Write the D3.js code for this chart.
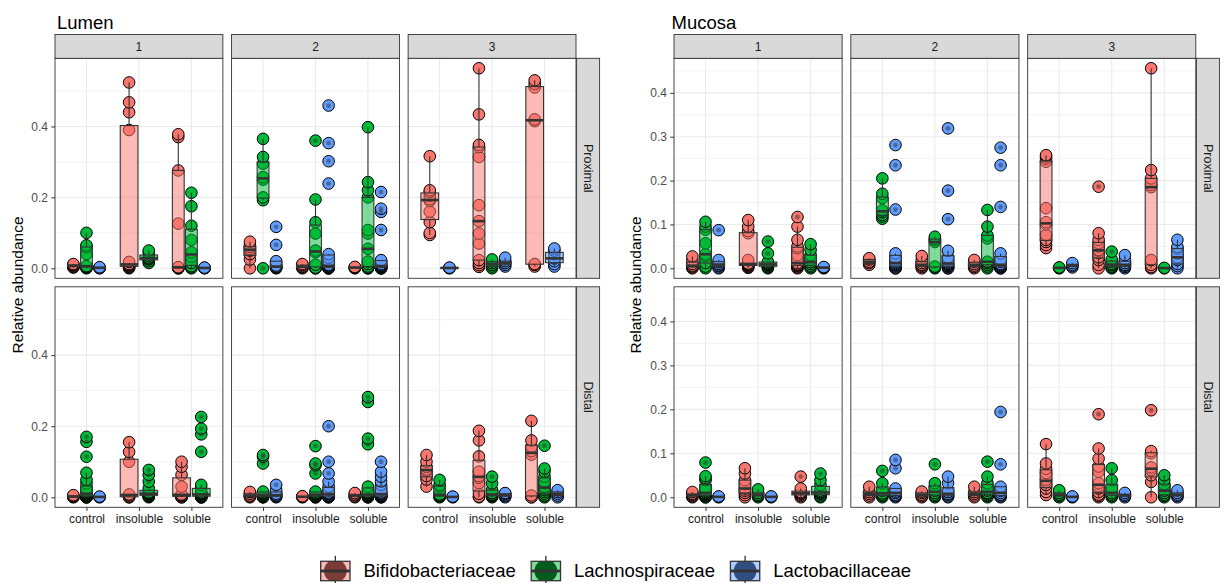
<!DOCTYPE html>
<meta charset="utf-8">
<style>
body { margin: 0; background: #fff; }
text { font-family: "Liberation Sans", Arial, sans-serif; }
</style>
<svg width="1228" height="583"></svg>
<script src="https://d3js.org/d3.v7.min.js"></script>
<script>
'use strict';

var weeks = ["1", "2", "3"];
var sections = ["Proximal", "Distal"];
var diets = ["control", "insoluble", "soluble"];
var families = ["Bifidobacteriaceae", "Lachnospiraceae", "Lactobacillaceae"];
var colors = ["#F8766D", "#00BA38", "#619CFF"];
var keyColors = ["#7C3B37", "#005D1C", "#314E80"];

var lumenTicks = [0, 0.2, 0.4];
var lumenMinor = [0.1, 0.3, 0.5];
var mucosaTicks = [0, 0.1, 0.2, 0.3, 0.4];
var mucosaMinor = [0.05, 0.15, 0.25, 0.35, 0.45];

// one entry per diet, inside it one list per family (null = not present)
var lumen_prox_1 = [
  [[0.002, 0.004, 0.006, 0.008, 0.01, 0.012],
   [0, 0.002, 0.004, 0.005, 0.006, 0.04, 0.06, 0.065, 0.1],
   [0, 0.001, 0.002, 0.003]],
  [[0, 0.002, 0.004, 0.006, 0.008, 0.01, 0.012, 0.018, 0.39, 0.44, 0.468, 0.524],
   [0.015, 0.02, 0.025, 0.027, 0.03, 0.035, 0.045, 0.05],
   null],
  [[0, 0, 0.001, 0.002, 0.003, 0.126, 0.276, 0.37, 0.378],
   [0, 0.003, 0.006, 0.015, 0.033, 0.045, 0.08, 0.12, 0.175, 0.213],
   [0, 0.001, 0.001, 0.002]]
];
var lumen_prox_2 = [
  [[0, 0.025, 0.04, 0.05, 0.055, 0.06, 0.065, 0.075],
   [0, 0.192, 0.2, 0.25, 0.257, 0.295, 0.314, 0.365],
   [0, 0.001, 0.003, 0.004, 0.005, 0.008, 0.02, 0.066, 0.117]],
  [[0, 0.002, 0.004, 0.006, 0.01, 0.012],
   [0, 0, 0.002, 0.01, 0.045, 0.05, 0.098, 0.13, 0.194, 0.36],
   [0, 0, 0, 0.001, 0.002, 0.003, 0.004, 0.005, 0.006, 0.008, 0.01, 0.02, 0.03, 0.04, 0.239, 0.302, 0.353, 0.459]],
  [[0, 0.001, 0.002, 0.003, 0.004],
   [0, 0, 0.002, 0.005, 0.012, 0.019, 0.055, 0.098, 0.108, 0.2, 0.22, 0.243, 0.398],
   [0, 0, 0, 0.001, 0.002, 0.003, 0.004, 0.005, 0.006, 0.007, 0.009, 0.012, 0.018, 0.023, 0.108, 0.159, 0.168, 0.215]]
];
var lumen_prox_3 = [
  [[0.094, 0.1, 0.13, 0.16, 0.19, 0.195, 0.205, 0.215, 0.22, 0.316],
   null,
   [0, 0.001, 0.002]],
  [[0.004, 0.009, 0.015, 0.023, 0.07, 0.098, 0.133, 0.178, 0.314, 0.342, 0.348, 0.434, 0.564],
   [0, 0.005, 0.01, 0.015, 0.02, 0.025],
   [0.005, 0.01, 0.015, 0.02, 0.03]],
  [[0.005, 0.01, 0.012, 0.415, 0.42, 0.51, 0.52, 0.53],
   null,
   [0.005, 0.012, 0.02, 0.028, 0.04, 0.05, 0.056]]
];
var lumen_dist_1 = [
  [[0, 0.001, 0.002, 0.004, 0.006],
   [0, 0, 0, 0.001, 0.002, 0.003, 0.004, 0.005, 0.006, 0.007, 0.008, 0.01, 0.012, 0.014, 0.016, 0.02, 0.025, 0.039, 0.049, 0.069, 0.114, 0.156, 0.17],
   [0, 0.001, 0.002]],
  [[0, 0, 0.002, 0.005, 0.008, 0.1, 0.128, 0.155],
   [0, 0.002, 0.003, 0.005, 0.006, 0.008, 0.009, 0.01, 0.011, 0.012, 0.014, 0.025, 0.044, 0.063, 0.077],
   null],
  [[0, 0, 0.002, 0.004, 0.006, 0.008, 0.03, 0.063, 0.086, 0.1],
   [0, 0, 0, 0.001, 0.002, 0.003, 0.004, 0.005, 0.006, 0.007, 0.008, 0.009, 0.01, 0.012, 0.014, 0.025, 0.035, 0.128, 0.177, 0.193, 0.226],
   null]
];
var lumen_dist_2 = [
  [[0, 0.002, 0.005, 0.01, 0.015],
   [0, 0, 0.001, 0.002, 0.003, 0.005, 0.006, 0.008, 0.01, 0.012, 0.016, 0.095, 0.114, 0.119],
   [0, 0.002, 0.004, 0.006, 0.01, 0.02, 0.035]],
  [[0, 0.001, 0.002, 0.003],
   [0, 0, 0.001, 0.002, 0.003, 0.004, 0.005, 0.006, 0.007, 0.008, 0.009, 0.01, 0.012, 0.016, 0.067, 0.09, 0.095, 0.144],
   [0, 0, 0.001, 0.002, 0.003, 0.004, 0.005, 0.006, 0.008, 0.01, 0.011, 0.013, 0.02, 0.03, 0.044, 0.067, 0.1, 0.2]],
  [[0, 0.002, 0.005, 0.008, 0.012],
   [0, 0, 0.001, 0.002, 0.003, 0.004, 0.005, 0.006, 0.007, 0.008, 0.01, 0.012, 0.015, 0.03, 0.149, 0.165, 0.268, 0.282],
   [0, 0, 0.001, 0.002, 0.003, 0.004, 0.005, 0.006, 0.008, 0.01, 0.011, 0.014, 0.02, 0.035, 0.044, 0.058, 0.072, 0.1]]
];
var lumen_dist_3 = [
  [[0.03, 0.05, 0.06, 0.075, 0.078, 0.085, 0.1, 0.119],
   [0, 0.002, 0.004, 0.006, 0.008, 0.03, 0.035, 0.049],
   [0, 0.001, 0.002]],
  [[0, 0.002, 0.01, 0.04, 0.055, 0.06, 0.072, 0.115, 0.16, 0.187],
   [0, 0.002, 0.004, 0.006, 0.008, 0.012, 0.02, 0.039, 0.058],
   [0, 0.003, 0.006, 0.01, 0.012]],
  [[0, 0, 0.005, 0.12, 0.13, 0.142, 0.16, 0.215],
   [0, 0.003, 0.005, 0.01, 0.015, 0.02, 0.025, 0.03, 0.04, 0.044, 0.058, 0.072, 0.081, 0.145],
   [0, 0.005, 0.01, 0.015, 0.02]]
];

var mucosa_prox_1 = [
  [[0, 0.002, 0.004, 0.006, 0.01, 0.018, 0.027],
   [0, 0.004, 0.012, 0.028, 0.032, 0.057, 0.088, 0.095, 0.106],
   [0, 0.002, 0.005, 0.007, 0.01, 0.014, 0.019, 0.087]],
  [[0.001, 0.003, 0.005, 0.007, 0.008, 0.009, 0.011, 0.019, 0.08, 0.085, 0.095, 0.11],
   [0, 0.002, 0.004, 0.006, 0.008, 0.01, 0.012, 0.015, 0.034, 0.061],
   null],
  [[0, 0.002, 0.004, 0.006, 0.007, 0.008, 0.009, 0.012, 0.02, 0.03, 0.046, 0.05, 0.065, 0.095, 0.117],
   [0, 0.003, 0.006, 0.01, 0.014, 0.02, 0.03, 0.042, 0.055],
   [0, 0.001, 0.002, 0.003]]
];
var mucosa_prox_2 = [
  [[0.008, 0.012, 0.015, 0.02, 0.023],
   [0.113, 0.118, 0.122, 0.128, 0.132, 0.16, 0.17, 0.205],
   [0, 0, 0.002, 0.004, 0.006, 0.008, 0.01, 0.012, 0.015, 0.02, 0.025, 0.034, 0.134, 0.235, 0.281]],
  [[0, 0.003, 0.006, 0.008, 0.012, 0.018, 0.028],
   [0, 0.002, 0.004, 0.06, 0.065, 0.068, 0.072],
   [0, 0, 0.002, 0.004, 0.005, 0.006, 0.008, 0.01, 0.012, 0.015, 0.02, 0.025, 0.04, 0.112, 0.177, 0.319]],
  [[0, 0.003, 0.006, 0.01, 0.015, 0.019],
   [0, 0.004, 0.008, 0.012, 0.015, 0.068, 0.075, 0.095, 0.133],
   [0, 0, 0.002, 0.003, 0.004, 0.005, 0.006, 0.008, 0.01, 0.015, 0.02, 0.034, 0.14, 0.235, 0.275]]
];
var mucosa_prox_3 = [
  [[0.046, 0.053, 0.06, 0.065, 0.076, 0.1, 0.105, 0.137, 0.243, 0.25, 0.255, 0.258],
   [0, 0.001, 0.002],
   [0.002, 0.005, 0.008, 0.012]],
  [[0, 0.008, 0.019, 0.025, 0.035, 0.04, 0.042, 0.05, 0.057, 0.065, 0.08, 0.186],
   [0, 0.002, 0.004, 0.007, 0.01, 0.015, 0.02, 0.038],
   [0, 0.003, 0.006, 0.008, 0.012, 0.02, 0.03]],
  [[0, 0.003, 0.008, 0.019, 0.185, 0.19, 0.205, 0.224, 0.456],
   [0, 0.001],
   [0, 0.005, 0.01, 0.019, 0.025, 0.034, 0.045, 0.049, 0.065]]
];
var mucosa_dist_1 = [
  [[0, 0.002, 0.004, 0.006, 0.008, 0.012],
   [0, 0, 0.002, 0.004, 0.005, 0.006, 0.008, 0.01, 0.012, 0.015, 0.02, 0.039, 0.043, 0.048, 0.079],
   [0, 0.001, 0.002]],
  [[0, 0.005, 0.01, 0.015, 0.02, 0.03, 0.039, 0.054, 0.066],
   [0, 0.003, 0.006, 0.01, 0.018],
   [0, 0.001, 0.002]],
  [[0, 0.003, 0.006, 0.008, 0.01, 0.012, 0.02, 0.047],
   [0, 0.002, 0.005, 0.008, 0.01, 0.012, 0.015, 0.028, 0.039, 0.054],
   null]
];
var mucosa_dist_2 = [
  [[0, 0.004, 0.008, 0.012, 0.024],
   [0, 0.003, 0.006, 0.009, 0.015, 0.032, 0.06],
   [0, 0.002, 0.004, 0.006, 0.01, 0.013, 0.02, 0.066, 0.085]],
  [[0, 0.003, 0.006, 0.01, 0.013],
   [0, 0.003, 0.006, 0.01, 0.015, 0.024, 0.032, 0.075],
   [0, 0.002, 0.005, 0.008, 0.012, 0.032, 0.047]],
  [[0, 0.004, 0.008, 0.012, 0.024],
   [0, 0.003, 0.005, 0.008, 0.01, 0.015, 0.02, 0.032, 0.047, 0.081],
   [0, 0.002, 0.004, 0.006, 0.01, 0.015, 0.024, 0.075, 0.194]]
];
var mucosa_dist_3 = [
  [[0.005, 0.012, 0.02, 0.028, 0.035, 0.04, 0.055, 0.065, 0.077, 0.121],
   [0, 0.003, 0.006, 0.01, 0.016],
   [0, 0.001, 0.002]],
  [[0, 0.003, 0.006, 0.012, 0.02, 0.025, 0.032, 0.058, 0.07, 0.088, 0.111, 0.189],
   [0, 0.003, 0.006, 0.01, 0.02, 0.039, 0.066],
   [0, 0.003, 0.006, 0.01]],
  [[0, 0.035, 0.05, 0.062, 0.068, 0.1, 0.105, 0.198],
   [0, 0.003, 0.006, 0.01, 0.015, 0.025, 0.03, 0.039, 0.05],
   [0, 0.003, 0.006, 0.01, 0.016]]
];

var svg = d3.select("svg");
svg.append("rect").attr("width", 1228).attr("height", 583).attr("fill", "#fff");

var stripTop = 34.5,
    rowTop = [58.3, 286.8],
    rowBot = [278.3, 507.3],
    gap = 8.7,
    dark = "#333333";

var plots = [
  {title: "Lumen", left: 55, right: 576, titleX: 57, yTitleX: 18,
   ticks: lumenTicks, minor: lumenMinor,
   panels: [[lumen_prox_1, lumen_prox_2, lumen_prox_3], [lumen_dist_1, lumen_dist_2, lumen_dist_3]]},
  {title: "Mucosa", left: 674, right: 1195.8, titleX: 671.5, yTitleX: 636,
   ticks: mucosaTicks, minor: mucosaMinor,
   panels: [[mucosa_prox_1, mucosa_prox_2, mucosa_prox_3], [mucosa_dist_1, mucosa_dist_2, mucosa_dist_3]]}
];

function boxStats(vals) {
  var s = vals.slice().sort(d3.ascending);
  var q1 = d3.quantile(s, 0.25), med = d3.quantile(s, 0.5), q3 = d3.quantile(s, 0.75);
  var iqr = q3 - q1;
  var lo = d3.min(s.filter(v => v >= q1 - 1.5 * iqr));
  var hi = d3.max(s.filter(v => v <= q3 + 1.5 * iqr));
  return {q1: q1, med: med, q3: q3, lo: lo, hi: hi, out: s.filter(v => v < lo || v > hi)};
}

plots.forEach(function(p) {
  // rows > weeks > diets > families > values
  var all = p.panels.flat(4).filter(v => typeof v === "number");
  var M = d3.max(all);
  var pw = (p.right - p.left - 2 * gap) / 3;

  // title
  svg.append("text")
    .attr("x", p.titleX).attr("y", 28.5)
    .attr("font-size", 18.5).attr("fill", "#000")
    .text(p.title);

  // y axis title
  svg.append("text")
    .attr("transform", "translate(" + p.yTitleX + ",285) rotate(-90)")
    .attr("text-anchor", "middle").attr("dy", "0.35em")
    .attr("font-size", 15.5).attr("fill", "#000")
    .text("Relative abundance");

  sections.forEach(function(sec, r) {
    var y = d3.scaleLinear().domain([-0.05 * M, 1.05 * M]).range([rowBot[r], rowTop[r]]);

    weeks.forEach(function(wk, c) {
      var x0 = p.left + c * (pw + gap);
      var xs = d3.scalePoint().domain(diets).range([x0, x0 + pw]).padding(0.6);
      var step = xs.step();
      var data = p.panels[r][c];
      var g = svg.append("g");

      g.append("rect")
        .attr("x", x0).attr("y", rowTop[r])
        .attr("width", pw).attr("height", rowBot[r] - rowTop[r])
        .attr("fill", "#fff");

      g.selectAll(".minor").data(p.minor).enter().append("line")
        .attr("x1", x0).attr("x2", x0 + pw)
        .attr("y1", d => y(d)).attr("y2", d => y(d))
        .attr("stroke", "#EBEBEB").attr("stroke-width", 0.6);

      g.selectAll(".major").data(p.ticks).enter().append("line")
        .attr("x1", x0).attr("x2", x0 + pw)
        .attr("y1", d => y(d)).attr("y2", d => y(d))
        .attr("stroke", "#EBEBEB").attr("stroke-width", 1.1);

      g.selectAll(".vgrid").data(diets).enter().append("line")
        .attr("x1", d => xs(d)).attr("x2", d => xs(d))
        .attr("y1", rowTop[r]).attr("y2", rowBot[r])
        .attr("stroke", "#EBEBEB").attr("stroke-width", 1.1);

      // dodge families inside each diet
      var groups = [];
      diets.forEach(function(diet, di) {
        var present = families.map((f, fi) => fi).filter(fi => data[di][fi] !== null);
        var n = present.length;
        present.forEach(function(fi, k) {
          var cx = xs(diet) + (k - (n - 1) / 2) * (0.75 / n) * step;
          groups.push({fi: fi, cx: cx, bw: 0.75 / n * 0.9 * step, vals: data[di][fi], st: boxStats(data[di][fi])});
        });
      });

      var pts = [];
      groups.forEach(gr => gr.vals.forEach(v => pts.push({fi: gr.fi, cx: gr.cx, v: v})));

      g.selectAll(".pt").data(pts).enter().append("circle")
        .attr("cx", d => d.cx).attr("cy", d => y(d.v)).attr("r", 5.8)
        .attr("fill", d => colors[d.fi])
        .attr("stroke", "#000").attr("stroke-width", 1);

      var bx = g.selectAll(".box").data(groups).enter().append("g");

      bx.append("line")
        .attr("x1", d => d.cx).attr("x2", d => d.cx)
        .attr("y1", d => y(d.st.hi)).attr("y2", d => y(d.st.q3))
        .attr("stroke", dark).attr("stroke-width", 1.1);
      bx.append("line")
        .attr("x1", d => d.cx).attr("x2", d => d.cx)
        .attr("y1", d => y(d.st.q1)).attr("y2", d => y(d.st.lo))
        .attr("stroke", dark).attr("stroke-width", 1.1);
      bx.append("rect")
        .attr("x", d => d.cx - d.bw / 2).attr("width", d => d.bw)
        .attr("y", d => y(d.st.q3)).attr("height", d => Math.max(0, y(d.st.q1) - y(d.st.q3)))
        .attr("fill", d => colors[d.fi]).attr("fill-opacity", 0.5)
        .attr("stroke", dark).attr("stroke-width", 1.1);
      bx.append("line")
        .attr("x1", d => d.cx - d.bw / 2).attr("x2", d => d.cx + d.bw / 2)
        .attr("y1", d => y(d.st.med)).attr("y2", d => y(d.st.med))
        .attr("stroke", dark).attr("stroke-width", 2.6);
      bx.selectAll(".out").data(d => d.st.out.map(v => ({cx: d.cx, v: v}))).enter().append("circle")
        .attr("cx", d => d.cx).attr("cy", d => y(d.v)).attr("r", 2.4)
        .attr("fill", dark).attr("fill-opacity", 0.5);

      g.append("rect")
        .attr("x", x0).attr("y", rowTop[r])
        .attr("width", pw).attr("height", rowBot[r] - rowTop[r])
        .attr("fill", "none").attr("stroke", dark).attr("stroke-width", 0.9);

      // axes on the outer panels only
      if (c === 0) {
        var ya = g.append("g")
          .attr("transform", "translate(" + x0 + ",0)")
          .call(d3.axisLeft(y).tickValues(p.ticks).tickFormat(d3.format(".1f")).tickSize(3.7).tickPadding(3.3));
        ya.select(".domain").remove();
        ya.selectAll("line").attr("stroke", dark);
        ya.selectAll("text").attr("fill", "#4D4D4D").attr("font-size", 12)
          .attr("font-family", "Liberation Sans, Arial, sans-serif");
      }
      if (r === 1) {
        var xa = g.append("g")
          .attr("transform", "translate(0," + rowBot[r] + ")")
          .call(d3.axisBottom(xs).tickSize(3.7).tickPadding(3));
        xa.select(".domain").remove();
        xa.selectAll("line").attr("stroke", dark);
        xa.selectAll("text").attr("fill", "#1A1A1A").attr("font-size", 12)
          .attr("font-family", "Liberation Sans, Arial, sans-serif");
      }

      // strips
      if (r === 0) {
        svg.append("rect")
          .attr("x", x0).attr("y", stripTop)
          .attr("width", pw).attr("height", rowTop[0] - stripTop)
          .attr("fill", "#D9D9D9").attr("stroke", dark).attr("stroke-width", 0.9);
        svg.append("text")
          .attr("x", x0 + pw / 2).attr("y", (stripTop + rowTop[0]) / 2)
          .attr("dy", "0.35em").attr("text-anchor", "middle")
          .attr("font-size", 12).attr("fill", "#1A1A1A")
          .text(wk);
      }
      if (c === 2) {
        var sx = x0 + pw + 0.6, sw = 23;
        svg.append("rect")
          .attr("x", sx).attr("y", rowTop[r])
          .attr("width", sw).attr("height", rowBot[r] - rowTop[r])
          .attr("fill", "#D9D9D9").attr("stroke", dark).attr("stroke-width", 0.9);
        svg.append("text")
          .attr("transform", "translate(" + (sx + sw / 2) + "," + (rowTop[r] + rowBot[r]) / 2 + ") rotate(90)")
          .attr("dy", "0.35em").attr("text-anchor", "middle")
          .attr("font-size", 12.5).attr("fill", "#1A1A1A")
          .text(sec);
      }
    });
  });
});

// legend
var legend = svg.append("g");
var lx = 320.7, keyW = 29.3, keyTop = 561.3, keyH = 19.4;
var defs = svg.append("defs");

families.forEach(function(f, i) {
  var kg = legend.append("g");
  defs.append("clipPath").attr("id", "kc" + i)
    .append("rect").attr("x", lx).attr("y", keyTop).attr("width", keyW).attr("height", keyH);

  kg.append("line")
    .attr("x1", lx + keyW / 2).attr("x2", lx + keyW / 2)
    .attr("y1", keyTop - 5.5).attr("y2", keyTop + keyH + 5.5)
    .attr("stroke", dark).attr("stroke-width", 1.3);
  kg.append("rect")
    .attr("x", lx).attr("y", keyTop).attr("width", keyW).attr("height", keyH)
    .attr("fill", colors[i]).attr("fill-opacity", 0.5);
  kg.append("circle")
    .attr("clip-path", "url(#kc" + i + ")")
    .attr("cx", lx + keyW / 2).attr("cy", keyTop + keyH / 2).attr("r", 11.4)
    .attr("fill", keyColors[i]);
  kg.append("rect")
    .attr("x", lx).attr("y", keyTop).attr("width", keyW).attr("height", keyH)
    .attr("fill", "none").attr("stroke", dark).attr("stroke-width", 1.3);
  kg.append("line")
    .attr("x1", lx).attr("x2", lx + keyW)
    .attr("y1", keyTop + keyH / 2).attr("y2", keyTop + keyH / 2)
    .attr("stroke", dark).attr("stroke-width", 2.8);

  var t = kg.append("text")
    .attr("x", lx + keyW + 13.5).attr("y", 577.3)
    .attr("font-size", 18.5).attr("fill", "#000")
    .text(f);
  lx = lx + keyW + 13.5 + t.node().getComputedTextLength() + 15.5;
});

</script>
